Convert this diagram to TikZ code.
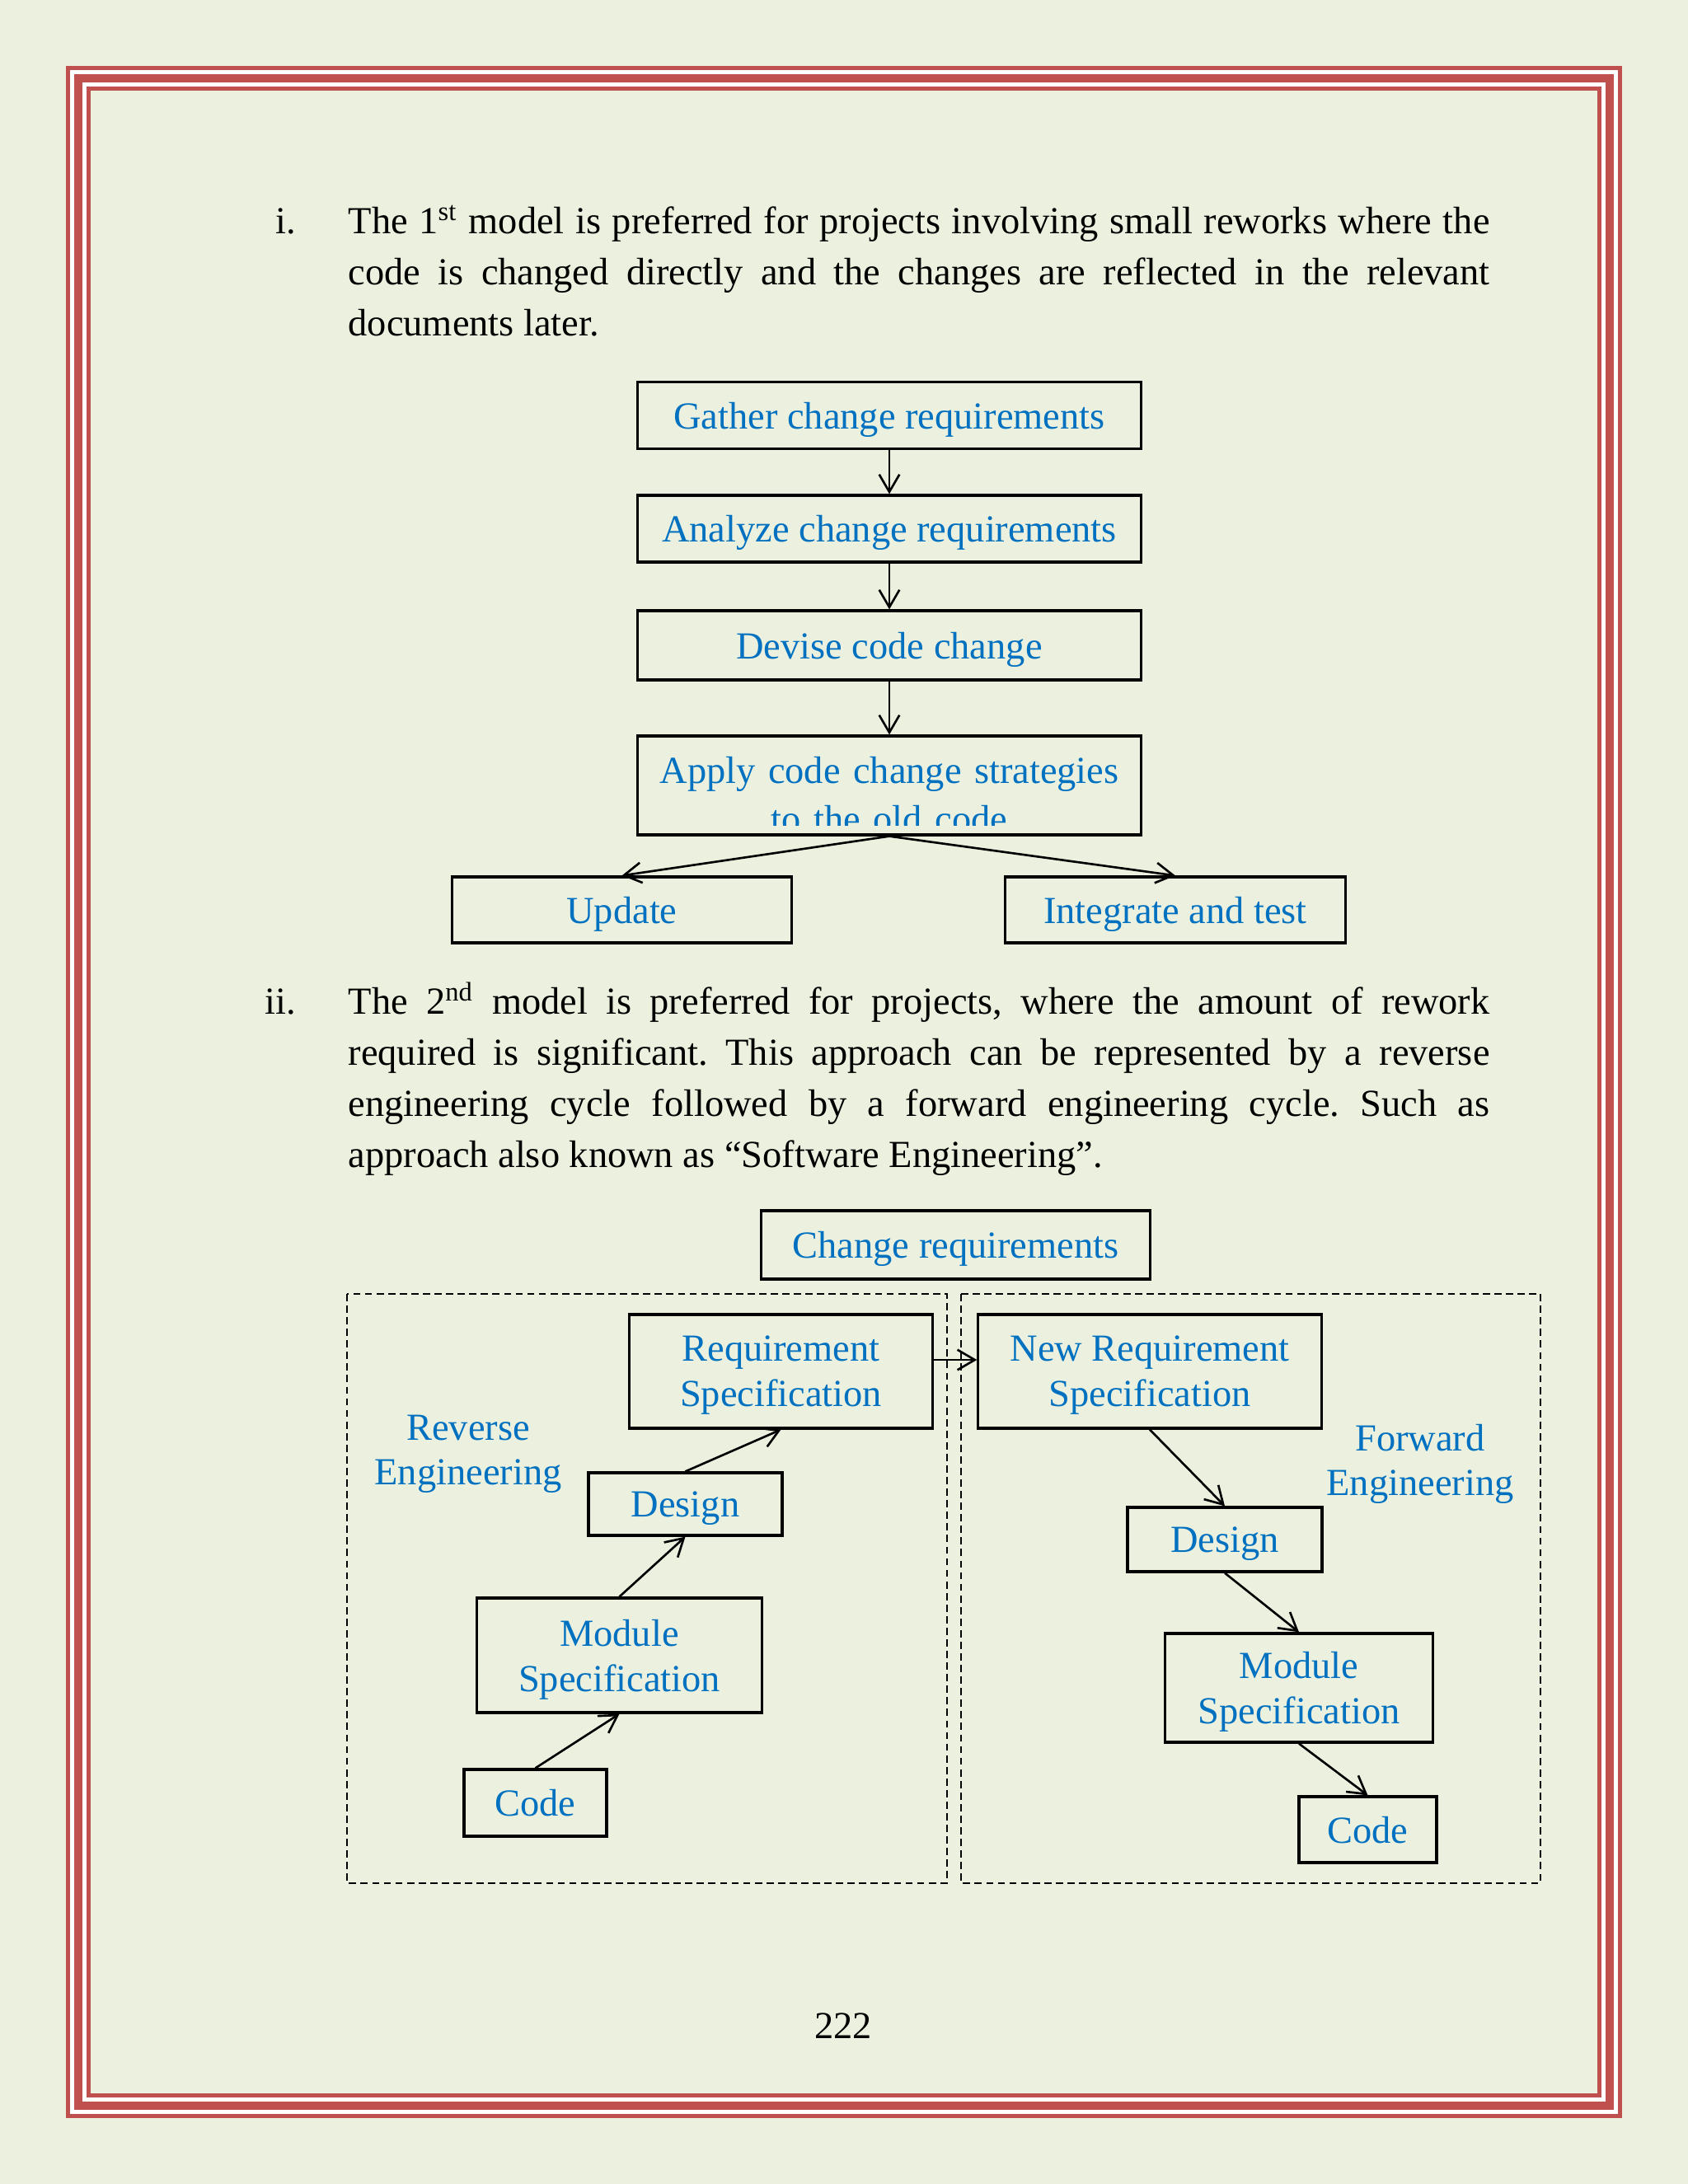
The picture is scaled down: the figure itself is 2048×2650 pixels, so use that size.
\documentclass[tikz,border=0pt]{standalone}
\usepackage{fontspec}
\setmainfont{Liberation Serif}
\usepackage{xcolor}
\usetikzlibrary{arrows.meta,positioning}
\definecolor{pagebg}{HTML}{EBF1DE}
\definecolor{framered}{HTML}{C0504D}
\definecolor{boxblue}{HTML}{0070C0}
\frenchspacing

\begin{document}
\begin{tikzpicture}[x=0.01cm, y=-0.01cm,
    every node/.style={font=\fontsize{13.2}{15.6}\selectfont},
    flowbox/.style={rectangle, draw, line width=0.9pt, text=boxblue, inner sep=0pt, align=center, text depth=0pt},
    lbltext/.style={text=boxblue, align=center, text width=3cm, inner sep=0pt},
    para/.style={text width=13.84cm, align=justify, inner sep=0pt, font=\fontsize{13.2}{17.64}\selectfont},
    arrow/.style={-{Straight Barb[length=6pt,width=7pt]}, line width=0.75pt},
    dashframe/.style={line width=0.6pt, dash pattern=on 2.5pt off 1.5pt}
]
    % Page and triple border
    \fill[pagebg] (0,0) rectangle (2048,2650);
    \foreach \d/\c in {0/framered,5/white,10/framered,20/white,25/framered,30/pagebg} {
        \fill[\c] (80+\d,80+\d) rectangle (1968-\d,2570-\d);
    }

    % Item i
    \node[anchor=base east, inner sep=0pt] (numi) at (360,283) {i.};
    \node[para, anchor=base west] (parai) at (422,283)
        {The 1\textsuperscript{st} model is preferred for projects involving small reworks where the\linebreak
         code is changed directly and the changes are reflected in the relevant\linebreak
         documents later.};

    % First model
    \node[flowbox, minimum width=6.1cm, minimum height=0.81cm] (gather) at (1079,504) {Gather change requirements};
    \node[flowbox, minimum width=6.1cm, minimum height=0.81cm] (analyze) at (1079,641.5) {Analyze change requirements};
    \node[flowbox, minimum width=6.1cm, minimum height=0.84cm] (devise) at (1079,783) {Devise code change};
    \node[flowbox, minimum width=6.1cm, minimum height=1.2cm] (apply) at (1079,953) {};
    \begin{scope}
        \clip (apply.north west) rectangle ([yshift=0.13cm]apply.south east);
        \node[lbltext, text width=6cm, anchor=base, font=\fontsize{13.2}{16.8}\selectfont] (applytext) at (1079,950)
            {Apply code change strategies\\to the old code};
    \end{scope}
    \node[flowbox, minimum width=4.11cm, minimum height=0.8cm] (update) at (754.5,1104) {Update};
    \node[flowbox, minimum width=4.12cm, minimum height=0.8cm] (integrate) at (1426,1104) {Integrate and test};

    \draw[arrow] (gather.south) -- (analyze.north);
    \draw[arrow] (analyze.south) -- (devise.north);
    \draw[arrow] (devise.south) -- (apply.north);
    \draw[arrow] (apply.south) -- (update.north);
    \draw[arrow] (apply.south) -- (integrate.north);

    % Item ii
    \node[anchor=base east, inner sep=0pt] (numii) at (360,1230) {ii.};
    \node[para, anchor=base west] (paraii) at (422,1230)
        {The 2\textsuperscript{nd} model is preferred for projects, where the amount of rework\linebreak
         required is significant. This approach can be represented by a reverse\linebreak
         engineering cycle followed by a forward engineering cycle. Such as\linebreak
         approach also known as ``Software Engineering''.};

    % Second model
    \node[flowbox, minimum width=4.71cm, minimum height=0.83cm] (changereq) at (1159.5,1510.5) {Change requirements};
    \draw[dashframe] (421,1570) rectangle (1149,2285);
    \draw[dashframe] (1166,1570) rectangle (1869,2285);

    % Reverse engineering
    \node[lbltext, anchor=base] (revlbl) at (568,1747) {Reverse\\Engineering};
    \node[flowbox, minimum width=3.67cm, minimum height=1.38cm] (reqspec) at (947.5,1664) {Requirement\\Specification};
    \node[flowbox, minimum width=2.35cm, minimum height=0.76cm] (designL) at (831.5,1825) {Design};
    \node[flowbox, minimum width=3.45cm, minimum height=1.39cm] (moduleL) at (751.5,2008.5) {Module\\Specification};
    \node[flowbox, minimum width=1.73cm, minimum height=0.81cm] (codeL) at (649.5,2187.5) {Code};

    \draw[arrow] (codeL.north) -- (moduleL.south);
    \draw[arrow] (moduleL.north) -- (designL.south);
    \draw[arrow] (designL.north) -- (reqspec.south);

    % Forward engineering
    \node[lbltext, anchor=base] (fwdlbl) at (1723,1760) {Forward\\Engineering};
    \node[flowbox, minimum width=4.16cm, minimum height=1.38cm] (newreq) at (1395,1664) {New Requirement\\Specification};
    \node[flowbox, minimum width=2.36cm, minimum height=0.78cm] (designR) at (1486,1868) {Design};
    \node[flowbox, minimum width=3.24cm, minimum height=1.32cm] (moduleR) at (1576,2048) {Module\\Specification};
    \node[flowbox, minimum width=1.67cm, minimum height=0.8cm] (codeR) at (1659.5,2220) {Code};

    \draw[arrow] ([yshift=0.14cm]reqspec.east) -- ([yshift=0.14cm]newreq.west);
    \draw[arrow] (newreq.south) -- (designR.north);
    \draw[arrow] (designR.south) -- (moduleR.north);
    \draw[arrow] (moduleR.south) -- (codeR.north);

    % Page number
    \node[anchor=base] (pagenum) at (1023,2473) {222};
\end{tikzpicture}
\end{document}
